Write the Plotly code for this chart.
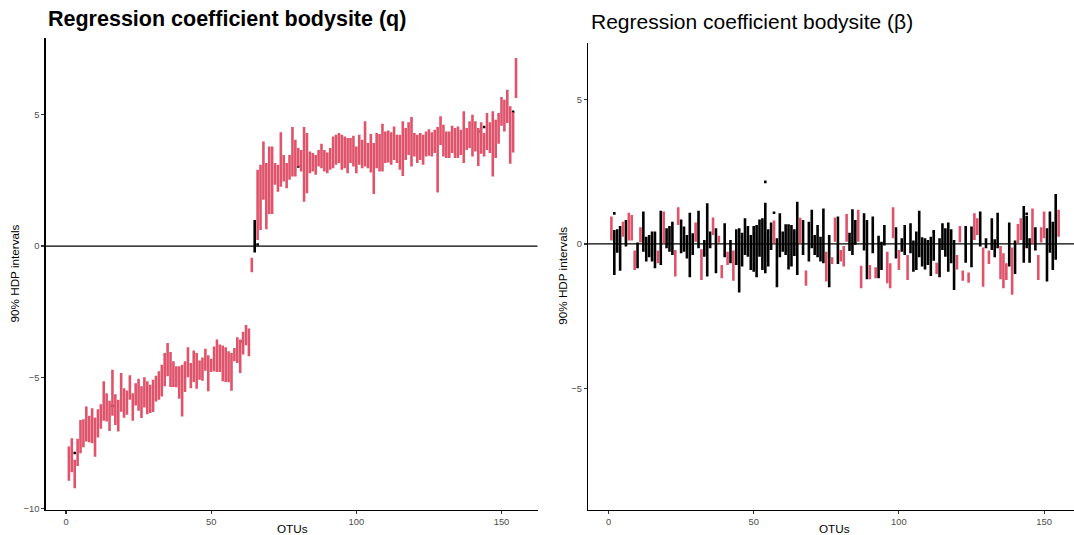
import plotly.graph_objects as go

# ---------------- data: 90% HDP intervals per OTU ----------------
otu = list(range(1, 156))

q_lower = [
    -8.94, -8.61, -9.22, -8.37, -7.89, -7.66, -7.44, -7.47, -7.51, -8.02,
    -7.29, -6.96, -6.65, -6.68, -7.04, -6.46, -6.81, -7.06, -6.31, -6.54,
    -6.42, -5.85, -6.65, -6.07, -6.27, -6.55, -6.15, -6.40, -6.36, -6.32,
    -5.92, -5.85, -5.73, -5.34, -4.96, -5.37, -5.37, -5.38, -5.81, -6.49,
    -5.56, -5.00, -5.41, -5.18, -5.43, -5.09, -5.13, -4.75, -5.53, -4.80,
    -4.77, -4.80, -4.80, -5.15, -5.18, -5.19, -5.51, -4.39, -4.45, -4.83,
    -4.13, -3.78, -4.20, -1.00, -0.25,
    0.23, 0.61, 1.76, 0.64, 1.22, 1.22, 2.33, 2.07, 2.26, 2.46,
    2.20, 2.52, 2.65, 2.65, 3.03, 2.84, 1.69, 2.01, 2.77, 2.84,
    2.71, 3.03, 2.96, 2.84, 2.77, 2.90, 2.96, 3.09, 3.16, 2.90,
    2.96, 2.77, 3.16, 3.03, 2.77, 3.09, 2.96, 3.03, 2.96, 2.80,
    1.98, 2.96, 2.84, 2.84, 3.16, 3.18, 3.09, 3.28, 3.16, 2.90,
    2.67, 3.28, 3.47, 3.03, 3.41, 3.16, 3.28, 3.09, 3.41, 3.44,
    3.41, 3.54, 2.04, 3.85, 3.41, 3.35, 3.35, 3.54, 3.35, 3.35,
    3.47, 3.16, 3.66, 3.73, 3.41, 3.60, 3.05, 3.51, 3.41, 3.66,
    3.54, 2.65, 3.35, 3.89, 4.58, 4.36, 4.68, 3.13, 3.56, 5.64,
]
q_upper = [
    -7.63, -7.32, -8.14, -7.34, -6.62, -6.59, -6.11, -6.46, -6.18, -6.53,
    -6.21, -6.02, -5.15, -5.60, -5.89, -4.71, -5.64, -5.85, -4.83, -5.41,
    -5.50, -4.92, -5.60, -5.22, -5.05, -5.34, -5.00, -5.15, -5.28, -5.09,
    -4.94, -4.77, -4.52, -4.07, -3.69, -4.03, -4.39, -4.58, -4.58, -4.52,
    -4.39, -3.85, -4.45, -3.98, -4.07, -4.36, -4.24, -3.91, -4.16, -4.29,
    -3.82, -3.56, -3.75, -3.79, -3.85, -4.01, -4.07, -3.88, -3.47, -3.56,
    -3.26, -3.01, -3.14, -0.45, 0.99,
    2.90, 3.09, 3.98, 3.16, 3.79, 3.79, 3.16, 3.09, 4.33, 3.47,
    3.16, 3.47, 4.53, 4.05, 3.73, 3.66, 4.53, 4.30, 3.60, 3.54,
    3.47, 3.66, 3.89, 3.66, 3.56, 3.73, 4.17, 4.24, 4.30, 4.24,
    4.17, 4.11, 4.11, 4.20, 3.79, 4.24, 4.05, 4.75, 3.92, 4.27,
    3.92, 4.30, 4.27, 4.66, 4.36, 4.40, 4.33, 4.55, 4.24, 4.24,
    4.75, 4.49, 4.71, 4.91, 4.30, 4.24, 4.30, 4.24, 4.36, 4.45,
    4.33, 4.43, 4.53, 4.94, 4.62, 4.36, 4.36, 4.58, 4.49, 4.55,
    4.43, 5.13, 4.49, 4.75, 5.00, 4.75, 4.49, 4.71, 4.30, 5.06,
    4.71, 5.13, 4.81, 5.06, 5.67, 5.57, 5.95, 5.32, 5.09, 7.16,
]

b_lower = [
    0.12, -1.07, -0.30, -0.93, 0.25, -0.09, 0.12, 0.12, -0.90, -0.84,
    0.05, -0.27, -0.61, -0.46, -0.61, -0.84, -0.67, -0.73, 0.02, -0.15,
    -0.27, -0.38, -1.13, 0.66, -0.32, -0.27, -0.50, -1.15, -0.38, 0.08,
    -0.15, -1.25, -0.44, -1.13, -0.15, 0.31, -1.01, 0.04, -1.19, -0.46,
    -0.73, -0.67, -1.27, -0.73, -1.68, -0.78, -0.38, -0.44, -0.90, -0.96,
    -1.15, -0.44, -0.90, -1.01, -0.78, -0.21, 0.02, -1.50, -0.46, -0.27,
    -0.38, -0.88, -0.78, -0.42, -1.07, 0.02, -0.38, -1.45, -0.61, -0.15,
    -0.38, -0.46, -0.61, -0.67, -1.30, -1.50, -0.69, 0.08, -0.69, -0.61,
    -0.78, 0.08, -0.24, -0.38, -0.03, 0.08, -1.53, -0.23, -1.22, -1.22,
    -0.32, -1.19, -1.19, -0.90, -0.05, -1.36, -1.53, 0.20, -0.50, -0.90,
    -0.27, -0.38, -1.25, -0.32, -0.96, -0.90, -0.46, -0.78, -0.88, -0.73,
    -1.11, -0.58, -1.04, -1.15, -0.21, -0.44, -0.96, -0.67, -1.59, -0.88,
    0.05, -1.27, -0.65, -1.34, -0.81, 0.14, 0.31, -0.09, -1.48, -0.15,
    -0.69, -0.21, -0.46, -0.15, -1.22, -1.53, -1.25, -0.78, -1.76, -1.04,
    0.02, 0.14, -0.65, -0.15, -0.65, 0.02, -0.23, -1.25, 0.05, 0.20,
    -1.30, -0.30, -0.90, -0.55, 0.25,
]
b_upper = [
    0.95, 0.48, 0.51, 0.62, 0.77, 0.83, 1.08, 1.00, -0.23, 0.05,
    0.58, 1.12, 0.25, 0.31, 0.43, 0.43, -0.23, 1.15, 1.12, 0.54,
    0.62, 0.77, -0.21, 1.27, 0.85, 0.60, 0.31, 1.08, 0.37, 0.74,
    1.15, -0.18, 0.14, 1.41, 0.43, 0.92, 0.54, 0.28, -0.73, 0.72,
    -0.27, 0.14, -0.23, 0.51, 0.54, 0.39, 0.89, 0.62, 0.31, 0.62,
    0.66, 0.85, 0.89, 1.43, 0.51, 0.74, 0.81, 0.20, 1.06, 0.43,
    0.68, 0.68, 0.66, 0.51, 1.46, 0.91, 0.83, -0.92, 0.77, 1.18,
    0.31, 0.66, 0.25, 1.23, -0.27, 0.31, -0.46, 0.92, 0.95, -0.21,
    -0.07, 1.04, 0.39, 1.20, 0.83, 1.18, -0.75, 1.06, 0.83, -0.73,
    0.95, -0.81, 0.28, 0.08, 0.66, -0.27, -0.67, 1.27, 0.58, -0.21,
    0.20, 0.66, -0.38, 0.72, 0.12, 0.43, 1.15, 0.23, 0.20, 0.14,
    0.25, 0.43, -0.65, 0.20, 0.72, 0.54, 0.74, 0.51, 0.14, -0.38,
    0.62, -0.92, 0.62, -0.99, 0.60, 1.06, 0.89, 1.12, -0.12, 0.20,
    -0.23, 0.89, 0.16, 1.08, -0.07, -0.32, -0.67, 0.74, -0.12, 0.12,
    0.69, 0.89, 1.31, 0.97, 0.20, 1.23, 0.58, -0.38, 0.58, 1.12,
    0.54, 1.12, 0.77, 1.73, 1.18,
]

# small visible median dots
q_dot_x = [3, 16, 60, 66, 80, 142, 144, 154]
q_dot_y = [-7.88, -6.09, -3.63, 0.06, 3.03, 4.36, 4.53, 5.11]
b_dot_x = [2, 54, 57, 112, 144]
b_dot_y = [1.06, 2.15, 1.08, 0.44, 1.04]

x_ticks = [0, 50, 100, 150]
q_y_ticks = [-10, -5, 0, 5]
b_y_ticks = [-5, 0, 5]

PINK = "#DF536B"
FONT = "Liberation Sans, Arial, Helvetica, sans-serif"
W, H = 1074, 535


def segments(xs, lo, hi, want_sig):
    sx, sy = [], []
    for x, l, h in zip(xs, lo, hi):
        sig = (l > 0) or (h < 0)
        if sig == want_sig:
            sx += [x, x, None]
            sy += [l, h, None]
    return sx, sy


fig = go.Figure()
for panel, lo, hi, dx, dy in [
    ("", q_lower, q_upper, q_dot_x, q_dot_y),
    ("2", b_lower, b_upper, b_dot_x, b_dot_y),
]:
    xa, ya = "x" + panel, "y" + panel
    fig.add_trace(go.Scatter(x=dx, y=dy, mode="markers", xaxis=xa, yaxis=ya,
                             marker=dict(color="black", size=2.6, symbol="square"),
                             hoverinfo="skip", showlegend=False))
    for sig, col in [(False, "black"), (True, PINK)]:
        sx, sy = segments(otu, lo, hi, sig)
        fig.add_trace(go.Scatter(x=sx, y=sy, mode="lines", xaxis=xa, yaxis=ya,
                                 line=dict(color=col, width=2.6),
                                 hoverinfo="skip", showlegend=False))

axis_common = dict(showgrid=False, zeroline=False, showline=True,
                   linecolor="black", linewidth=1.1, ticks="outside",
                   ticklen=3, tickwidth=1.1, tickcolor="#333333",
                   tickfont=dict(family=FONT, size=9.4, color="#4D4D4D"),
                   automargin=False, fixedrange=True)

fig.update_layout(
    width=W, height=H,
    margin=dict(l=0, r=0, t=0, b=0, pad=0),
    paper_bgcolor="white", plot_bgcolor="white",
    font=dict(family=FONT),
    xaxis=dict(domain=[45.5 / W, 537.5 / W], range=[-7.06, 162.4],
               tickvals=x_ticks, anchor="y", **axis_common),
    yaxis=dict(domain=[(H - 509.5) / H, (H - 38) / H], range=[-10.03, 7.92],
               tickvals=q_y_ticks, anchor="x", **axis_common),
    xaxis2=dict(domain=[588 / W, 1.0], range=[-7.06, 160.3],
                tickvals=x_ticks, anchor="y2", **axis_common),
    yaxis2=dict(domain=[(H - 509.5) / H, (H - 43) / H], range=[-9.19, 6.955],
                tickvals=b_y_ticks, anchor="x2", **axis_common),
    shapes=[
        dict(type="line", xref="x domain", yref="y", x0=0, x1=1, y0=0, y1=0,
             line=dict(color="black", width=1.2), layer="below"),
        dict(type="line", xref="x2 domain", yref="y2", x0=0, x1=1, y0=0, y1=0,
             line=dict(color="black", width=1.2), layer="below"),
    ],
    annotations=[
        dict(text="<b>Regression coefficient bodysite (q)</b>", xref="paper", yref="paper",
             x=46 / W, y=1 - 19.5 / H, xanchor="left", yanchor="middle", showarrow=False,
             font=dict(family=FONT, size=21.5, color="black")),
        dict(text="Regression coefficient bodysite (β)", xref="paper", yref="paper",
             x=588.5 / W, y=1 - 21.7 / H, xanchor="left", yanchor="middle", showarrow=False,
             font=dict(family=FONT, size=21, color="black")),
        dict(text="OTUs", xref="paper", yref="paper", x=292.5 / W, y=1 - 528 / H,
             xanchor="center", yanchor="middle", showarrow=False,
             font=dict(family=FONT, size=11.7, color="black")),
        dict(text="OTUs", xref="paper", yref="paper", x=834.6 / W, y=1 - 528 / H,
             xanchor="center", yanchor="middle", showarrow=False,
             font=dict(family=FONT, size=11.7, color="black")),
        dict(text="90% HDP intervals", xref="paper", yref="paper", x=14.7 / W,
             y=1 - 273.75 / H, xanchor="center", yanchor="middle", textangle=-90,
             showarrow=False, font=dict(family=FONT, size=11.7, color="black")),
        dict(text="90% HDP intervals", xref="paper", yref="paper", x=562.5 / W,
             y=1 - 276.25 / H, xanchor="center", yanchor="middle", textangle=-90,
             showarrow=False, font=dict(family=FONT, size=11.7, color="black")),
    ],
)

fig.write_html("out.html", config={"displayModeBar": False, "staticPlot": True},
               post_script="document.body.style.margin='0';document.body.style.overflow='hidden';")
